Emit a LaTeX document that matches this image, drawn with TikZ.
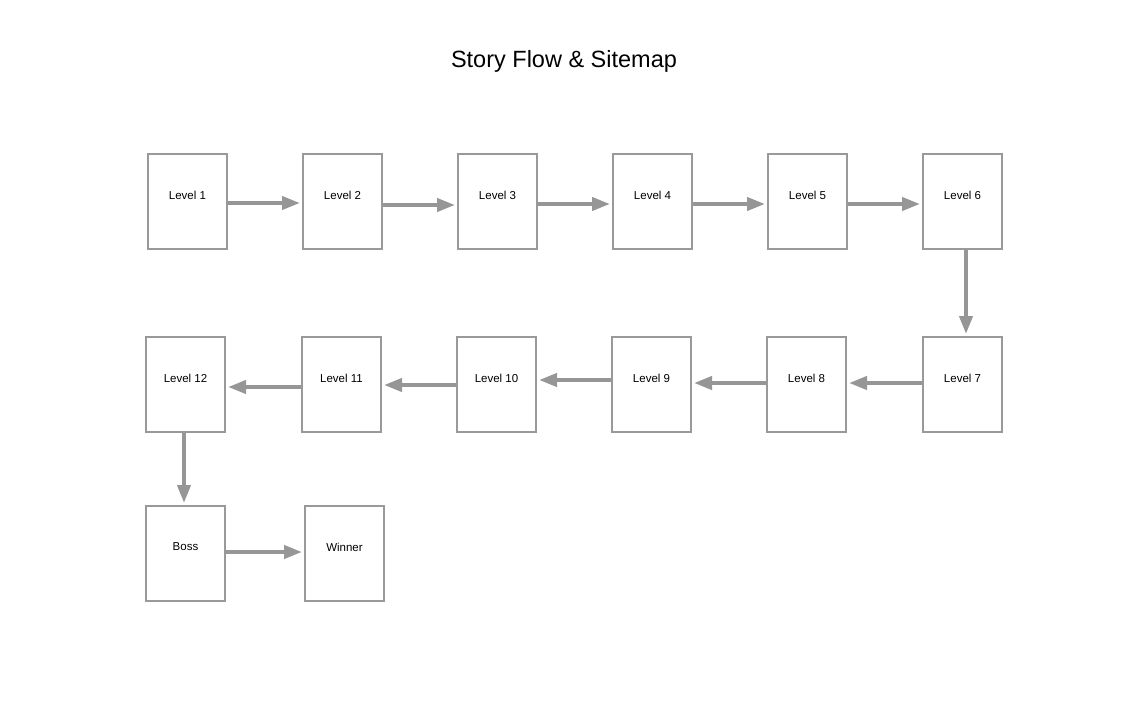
\documentclass[tikz,border=0pt]{standalone}
\usepackage{fontspec}
\setmainfont{Liberation Sans}
\usetikzlibrary{arrows.meta}
\definecolor{boxgray}{RGB}{153,153,153}
\definecolor{arrgray}{RGB}{150,150,150}
\tikzset{
  lvl/.style={draw=boxgray, line width=2pt, minimum width=79pt, minimum height=95pt, inner sep=0pt,
    label={[font=\fontsize{11.5}{12}\selectfont, yshift=6.5pt]center:#1}},
  flow/.style={draw=arrgray, line width=4pt, -{Triangle[length=18pt,width=13pt]}, shorten >=2pt}
}
\begin{document}
\begin{tikzpicture}[x=1pt,y=-1pt]
\useasboundingbox (0,0) rectangle (1132,717);
\node[font=\fontsize{23.5}{28}\selectfont] (title) at (564,61) {Story Flow \& Sitemap};
\node[lvl={Level 1}] (l1) at (187.5,201.5) {};
\node[lvl={Level 2}] (l2) at (342.5,201.5) {};
\node[lvl={Level 3}] (l3) at (497.5,201.5) {};
\node[lvl={Level 4}] (l4) at (652.5,201.5) {};
\node[lvl={Level 5}] (l5) at (807.5,201.5) {};
\node[lvl={Level 6}] (l6) at (962.5,201.5) {};
\node[lvl={Level 7}] (l7) at (962.5,384.5) {};
\node[lvl={Level 8}] (l8) at (806.5,384.5) {};
\node[lvl={Level 9}] (l9) at (651.5,384.5) {};
\node[lvl={Level 10}] (l10) at (496.5,384.5) {};
\node[lvl={Level 11}] (l11) at (341.5,384.5) {};
\node[lvl={Level 12}] (l12) at (185.5,384.5) {};
\node[lvl={Boss}] (boss) at (185.5,553.5) {};
\node[lvl={Winner}] (win) at (344.5,553.5) {};
\draw[flow] ([yshift=-1.5pt]l1.east) -- ([yshift=-1.5pt]l2.west);
\draw[flow] ([yshift=-3.5pt]l2.east) -- ([yshift=-3.5pt]l3.west);
\draw[flow] ([yshift=-2.5pt]l3.east) -- ([yshift=-2.5pt]l4.west);
\draw[flow] ([yshift=-2.5pt]l4.east) -- ([yshift=-2.5pt]l5.west);
\draw[flow] ([yshift=-2.5pt]l5.east) -- ([yshift=-2.5pt]l6.west);
\draw[flow] ([xshift=3.5pt]l6.south) -- ([xshift=3.5pt]l7.north);
\draw[flow] ([yshift=1.5pt]l7.west) -- ([yshift=1.5pt]l8.east);
\draw[flow] ([yshift=1.5pt]l8.west) -- ([yshift=1.5pt]l9.east);
\draw[flow] ([yshift=4.5pt]l9.west) -- ([yshift=4.5pt]l10.east);
\draw[flow] ([yshift=-0.5pt]l10.west) -- ([yshift=-0.5pt]l11.east);
\draw[flow] ([yshift=-2.5pt]l11.west) -- ([yshift=-2.5pt]l12.east);
\draw[flow] ([xshift=-1.5pt]l12.south) -- ([xshift=-1.5pt]boss.north);
\draw[flow] ([yshift=1.5pt]boss.east) -- ([yshift=1.5pt]win.west);
\end{tikzpicture}
\end{document}
